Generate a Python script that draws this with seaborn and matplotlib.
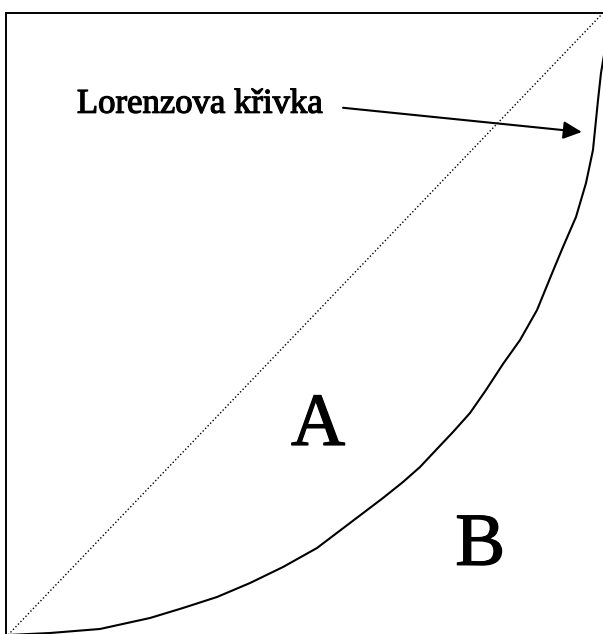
import matplotlib
matplotlib.use('Agg')
import matplotlib.pyplot as plt
import matplotlib.patheffects as pe
import seaborn as sns
import pandas as pd

# Lorenzova křivka - body (podíl populace, podíl příjmu)
populace = [0.0, 0.0707, 0.1549, 0.2391, 0.2946, 0.3519, 0.4074, 0.4630,
            0.5202, 0.5758, 0.6313, 0.6650, 0.6936, 0.7205, 0.7492, 0.7778,
            0.8047, 0.8333, 0.8620, 0.8906, 0.9175, 0.9343, 0.9562, 0.9731,
            0.9848, 0.9933, 0.9983, 1.0034, 1.0067]
prijem = [0.0, 0.0032, 0.0097, 0.0274, 0.0435, 0.0612, 0.0837, 0.1095,
          0.1401, 0.1804, 0.2206, 0.2464, 0.2705, 0.2979, 0.3269, 0.3575,
          0.3945, 0.4364, 0.4750, 0.5233, 0.5862, 0.6248, 0.6731, 0.7279,
          0.7810, 0.8615, 0.9050, 0.9340, 1.0]

# přímka absolutní rovnosti
rovnost_x = [0.0, 1.0]
rovnost_y = [0.0, 1.0]

popisky = ['A', 'B']

krivka_df = pd.DataFrame({'populace': populace, 'prijem': prijem})
rovnost_df = pd.DataFrame({'x': rovnost_x, 'y': rovnost_y})

sns.set_style('white')
plt.rcParams['font.family'] = ['Liberation Serif', 'DejaVu Serif']

fig = plt.figure(figsize=(6.03, 6.34), dpi=100)
ax = fig.add_axes([6 / 603, 0, 597 / 603, 621 / 634])

sns.lineplot(x='x', y='y', data=rovnost_df, ax=ax, color='black',
             linewidth=1.0, linestyle=(0, (1, 1.6)))
sns.lineplot(x='populace', y='prijem', data=krivka_df, ax=ax, color='black',
             linewidth=1.5)

ax.set_xlim(-2 / 594, 595 / 594)
ax.set_ylim(1 / 621, 1 + 1 / 621)

tucne = [pe.withStroke(linewidth=0.9, foreground='black')]

# popisky
ax.text(0.116, 0.841, 'Lorenzova křivka', fontsize=25, color='black',
        ha='left', va='baseline', path_effects=tucne)
ax.annotate('', xy=(0.966, 0.810), xytext=(0.564, 0.849),
            arrowprops=dict(arrowstyle='-|>,head_length=0.75,head_width=0.36',
                            mutation_scale=15, color='black', lw=1.5,
                            shrinkA=0, shrinkB=0))
ax.text(0.522, 0.306, popisky[0], fontsize=54, color='black',
        ha='center', va='baseline', path_effects=tucne)
ax.text(0.795, 0.113, popisky[1], fontsize=54, color='black',
        ha='center', va='baseline', path_effects=tucne)

ax.set_xlabel('')
ax.set_ylabel('')
ax.set_xticks([])
ax.set_yticks([])
ax.spines['right'].set_visible(False)
ax.spines['bottom'].set_visible(False)
for s in ['left', 'top']:
    ax.spines[s].set_color('black')
    ax.spines[s].set_linewidth(1.4)

plt.savefig('out.png', dpi=100)
